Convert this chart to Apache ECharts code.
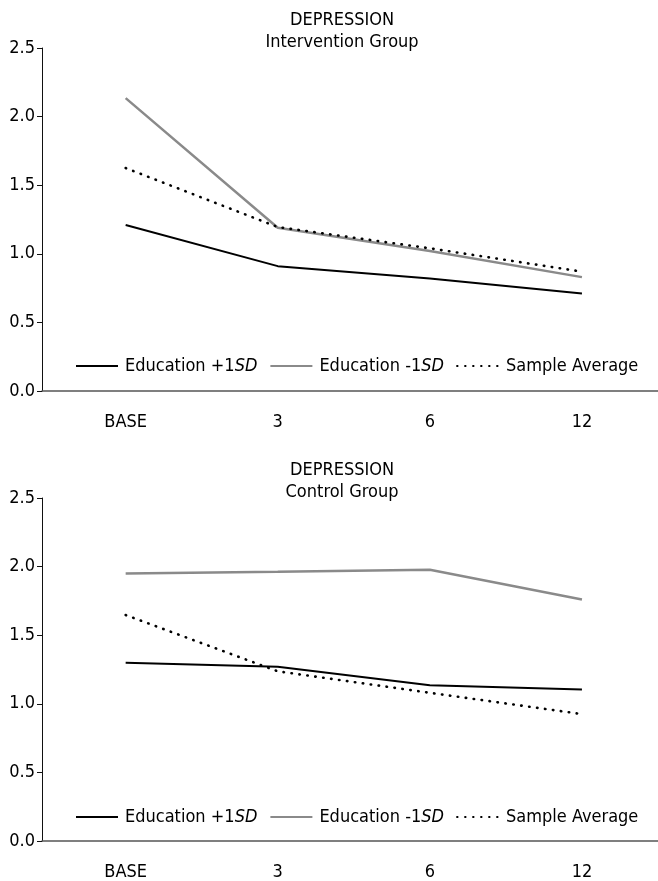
<!DOCTYPE html>
<html>
<head>
<meta charset="utf-8">
<script src="https://cdn.jsdelivr.net/npm/echarts@6/dist/echarts.min.js"></script>
<style>html,body{margin:0;padding:0;background:#fff}#c{width:658px;height:881px}</style>
</head>
<body>
<div id="c"></div>
<script>
var categories = ['BASE', '3', '6', '12'];
var yTicks = [0, 0.5, 1.0, 1.5, 2.0, 2.5];
var seriesNames = ['Education +1SD', 'Education -1SD', 'Sample Average'];

var intervHigh = [1.21, 0.91, 0.82, 0.71];
var intervLow = [2.135, 1.19, 1.02, 0.83];
var intervAvg = [1.625, 1.195, 1.04, 0.87];

var controlHigh = [1.30, 1.27, 1.135, 1.105];
var controlLow = [1.95, 1.963, 1.977, 1.76];
var controlAvg = [1.647, 1.237, 1.08, 0.925];

var FONT = '"Liberation Sans Narrow","DejaVu Sans Condensed","Liberation Sans",sans-serif';
var FS = 18;
var TXT = '#000';

function pts(arr) { return arr.map(function (v, i) { return [i, v]; }); }

var styles = [
  { color: '#000', width: 2, type: 'solid' },
  { color: '#8a8a8a', width: 2.5, type: 'solid' },
  { color: '#000', width: 2.6, type: [0.5, 7.5], cap: 'round' }
];

function makeSeries(idx, data, gi) {
  return {
    name: seriesNames[idx], type: 'line', xAxisIndex: gi, yAxisIndex: gi,
    data: pts(data), symbol: 'none', silent: true, animation: false,
    lineStyle: styles[idx], itemStyle: { color: styles[idx].color }
  };
}

function legendFormatter(name) {
  if (name.indexOf('SD') > 0) {
    return '{n|' + name.replace('SD', '') + '}{i|SD}';
  }
  return '{n|' + name + '}';
}
var legendRich = {
  n: { fontFamily: FONT, fontSize: FS, color: TXT },
  i: { fontFamily: FONT, fontSize: FS, color: TXT, fontStyle: 'italic' }
};

function xAxis(gi) {
  return {
    type: 'value', gridIndex: gi, min: -0.55, max: 3.5,
    splitLine: { show: false },
    axisTick: { show: false },
    axisLine: { show: true, onZero: false, lineStyle: { color: '#555', width: 1.5 } },
    axisLabel: {
      show: true, customValues: [0, 1, 2, 3], margin: 22,
      fontFamily: FONT, fontSize: FS, color: TXT,
      formatter: function (v) { return categories[Math.round(v)]; }
    }
  };
}
function yAxis(gi) {
  return {
    type: 'value', gridIndex: gi, min: yTicks[0], max: yTicks[yTicks.length - 1], interval: 0.5,
    splitLine: { show: false },
    axisLine: { show: true, onZero: false, lineStyle: { color: '#111', width: 1 } },
    axisTick: { show: true, length: 5, lineStyle: { color: '#111' } },
    axisLabel: {
      margin: 7, fontFamily: FONT, fontSize: FS, color: TXT,
      formatter: function (v) { return v.toFixed(1); }
    }
  };
}

function legend(top) {
  return {
    top: top, left: 75, padding: 0, itemWidth: 42, itemHeight: 10, itemGap: 12,
    itemStyle: { opacity: 0 },
    data: seriesNames, formatter: legendFormatter,
    textStyle: { rich: legendRich, padding: [0, 0, 0, 2] }, selectedMode: false
  };
}

var chart = echarts.init(document.getElementById('c'), null, { renderer: 'canvas' });
chart.setOption({
  animation: false,
  backgroundColor: '#fff',
  title: [
    { text: 'DEPRESSION\nIntervention Group', left: 342, top: 9, padding: 0, textAlign: 'center',
      textStyle: { fontFamily: FONT, fontSize: FS, fontWeight: 'normal', color: TXT, lineHeight: 22 } },
    { text: 'DEPRESSION\nControl Group', left: 342, top: 459, padding: 0, textAlign: 'center',
      textStyle: { fontFamily: FONT, fontSize: FS, fontWeight: 'normal', color: TXT, lineHeight: 22 } }
  ],
  grid: [
    { left: 42, right: 0, top: 48, height: 343 },
    { left: 42, right: 0, top: 498, height: 346 }
  ],
  legend: [legend(357), legend(808)],
  xAxis: [xAxis(0), xAxis(1)],
  yAxis: [yAxis(0), yAxis(1)],
  series: [
    makeSeries(0, intervHigh, 0), makeSeries(1, intervLow, 0), makeSeries(2, intervAvg, 0),
    makeSeries(0, controlHigh, 1), makeSeries(1, controlLow, 1), makeSeries(2, controlAvg, 1)
  ]
});
</script>
</body>
</html>
